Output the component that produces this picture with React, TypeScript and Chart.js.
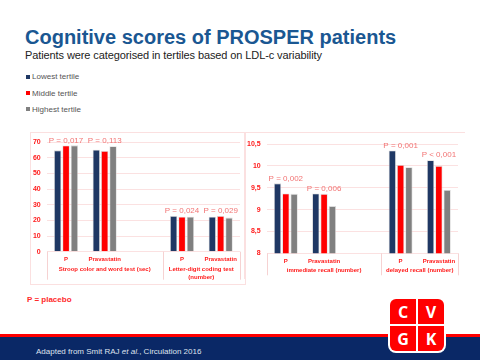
import React, { useEffect, useRef } from "react";
import { Chart, registerables } from "chart.js";

Chart.register(...registerables);

// ---------- DATA ----------
const seriesNames = ["Lowest tertile", "Middle tertile", "Highest tertile"];
const seriesColors = ["#1f3864", "#ff0000", "#808080"];

const leftCategories = ["P", "Pravastatin", "", "P", "Pravastatin"];
const leftLowest = [64.8, 65.2, null, 22.8, 22.4];
const leftMiddle = [67.9, 64.4, null, 22.4, 22.8];
const leftHighest = [68.0, 67.4, null, 22.4, 21.8];
const leftPValues = ["P = 0,017", "P = 0,113", "", "P = 0,024", "P = 0,029"];
const leftGroupLabels = [["Stroop color and word test (sec)"], ["Letter-digit coding test", "(number)"]];
const leftGroupSpans = [[0, 2], [3, 4]];
const leftTicks = { min: 0, max: 70, step: 10 };

const rightCategories = ["P", "Pravastatin", "", "P", "Pravastatin"];
const rightLowest = [9.6, 9.37, null, 10.35, 10.13];
const rightMiddle = [9.37, 9.36, null, 10.02, 10.0];
const rightHighest = [9.36, 9.08, null, 9.97, 9.45];
const rightPValues = ["P = 0,002", "P = 0,006", "", "P = 0,001", "P < 0,001"];
const rightGroupLabels = [["immediate recall (number)"], ["delayed recall (number)"]];
const rightGroupSpans = [[0, 2], [3, 4]];
const rightTicks = { min: 8, max: 10.5, step: 0.5 };

const FONT = '"Liberation Sans", Arial, sans-serif';
const RED = "#ff1a1a";
const PCOLOR = "#f27474";
const GRID = "#fbe1e1";

function makePlugin(pvals: string[], groupLabels: string[][], groupSpans: number[][], sepLen: number, groupOffset: number) {
  return {
    id: "annot",
    afterDatasetsDraw(chart: any) {
      const { ctx, scales, chartArea } = chart;
      const x = scales.x;
      const y = scales.y;
      ctx.save();
      ctx.font = `8px ${FONT}`;
      ctx.fillStyle = PCOLOR;
      ctx.textAlign = "center";
      ctx.textBaseline = "bottom";
      pvals.forEach((p, i) => {
        if (!p) return;
        const vals = chart.data.datasets.map((d: any) => d.data[i]).filter((v: any) => v != null);
        const top = y.getPixelForValue(Math.max(...vals));
        ctx.fillText(p, x.getPixelForValue(i), top - 1);
      });
      // separators
      ctx.strokeStyle = "#f6d2d2";
      ctx.lineWidth = 1;
      const bounds = new Set<number>();
      groupSpans.forEach(([a, b]) => {
        bounds.add(a - 0.5);
        bounds.add(b + 0.5);
      });
      bounds.forEach((b) => {
        const px = Math.round(x.getPixelForValue(b)) + 0.5;
        ctx.beginPath();
        ctx.moveTo(px, chartArea.bottom);
        ctx.lineTo(px, chartArea.bottom + sepLen);
        ctx.stroke();
      });
      // group labels
      ctx.font = `bold 6px ${FONT}`;
      ctx.fillStyle = RED;
      ctx.textBaseline = "middle";
      groupSpans.forEach(([a, b], gi) => {
        const cx = (x.getPixelForValue(a - 0.5) + x.getPixelForValue(b + 0.5)) / 2;
        groupLabels[gi].forEach((line, li) => {
          ctx.fillText(line, cx, chartArea.bottom + groupOffset + li * 8);
        });
      });
      ctx.restore();
    },
  };
}

function BarPanel(props: any) {
  const ref = useRef<HTMLCanvasElement>(null);
  const { categories, series, pvals, groupLabels, groupSpans, ticks, width, height, pad, yWidth, xHeight, sepLen, groupOffset, fmt } = props;
  useEffect(() => {
    const chart = new Chart(ref.current as HTMLCanvasElement, {
      type: "bar",
      data: {
        labels: categories,
        datasets: series.map((d: any, i: number) => ({
          label: seriesNames[i],
          data: d,
          backgroundColor: seriesColors[i],
          borderColor: "rgba(215,215,215,0.9)",
          borderWidth: 0.8,
          categoryPercentage: 0.65,
          barPercentage: 0.88,
        })),
      },
      options: {
        responsive: false,
        animation: false,
        layout: { padding: pad },
        plugins: { legend: { display: false }, tooltip: { enabled: false }, title: { display: false } },
        scales: {
          x: {
            grid: { display: false, drawTicks: false },
            border: { display: false },
            ticks: { color: RED, font: { family: FONT, size: 6, weight: "bold" }, padding: 4, autoSkip: false, maxRotation: 0 },
            afterFit: (s: any) => { s.height = xHeight; },
          },
          y: {
            min: ticks.min,
            max: ticks.max,
            grid: { color: GRID, drawTicks: false },
            border: { display: false },
            ticks: {
              stepSize: ticks.step,
              color: RED,
              padding: 6,
              font: { family: FONT, size: 7, weight: "bold" },
              callback: (v: any) => fmt(v),
            },
            afterFit: (s: any) => { s.width = yWidth; },
          },
        },
      },
      plugins: [makePlugin(pvals, groupLabels, groupSpans, sepLen, groupOffset)],
    } as any);
    return () => chart.destroy();
  }, []);
  return <canvas ref={ref} width={width} height={height} style={{ width, height, display: "block" }} />;
}

const abs = (l: number, t: number, extra: any = {}) => ({ position: "absolute" as const, left: l, top: t, ...extra });

export default function App() {
  return (
    <div style={{ position: "absolute", left: 0, top: 0, width: 480, height: 360, overflow: "hidden", background: "#fff", fontFamily: FONT }}>
      <div style={abs(25, 27, { fontSize: 20, lineHeight: "20px", fontWeight: "bold", color: "#1a5792", whiteSpace: "nowrap" })}>
        Cognitive scores of PROSPER patients
      </div>
      <div style={abs(25, 50, { fontSize: 11, lineHeight: "11px", color: "#222", whiteSpace: "nowrap", letterSpacing: "-0.1px" })}>
        Patients were categorised in tertiles based on LDL-c variability
      </div>
      {seriesNames.map((n, i) => (
        <React.Fragment key={n}>
          <div style={abs(26, 75 + i * 16, { width: 4, height: 4, background: seriesColors[i] })} />
          <div style={abs(32, 73 + i * 16.5, { fontSize: 8, lineHeight: "8px", color: "#555", whiteSpace: "nowrap" })}>{n}</div>
        </React.Fragment>
      ))}

      <div style={abs(30, 132, { width: 214, height: 151, border: "1px solid #fbe0e0" })} />
      <div style={abs(30, 132)}>
        <BarPanel
          categories={leftCategories}
          series={[leftLowest, leftMiddle, leftHighest]}
          pvals={leftPValues}
          groupLabels={leftGroupLabels}
          groupSpans={leftGroupSpans}
          ticks={leftTicks}
          width={215}
          height={152}
          pad={{ top: 7, right: 5, left: 0, bottom: 0 }}
          yWidth={16.7}
          xHeight={32.3}
          sepLen={28}
          groupOffset={17.6}
          fmt={(v: number) => String(v)}
        />
      </div>

      <div style={abs(244, 132, { width: 220, height: 146, borderLeft: "1px solid #fbe0e0", borderTop: "1px solid #fbe0e0" })} />
      <div style={abs(244, 132)}>
        <BarPanel
          categories={rightCategories}
          series={[rightLowest, rightMiddle, rightHighest]}
          pvals={rightPValues}
          groupLabels={rightGroupLabels}
          groupSpans={rightGroupSpans}
          ticks={rightTicks}
          width={220}
          height={148}
          pad={{ top: 12, right: 6, left: 0, bottom: 0 }}
          yWidth={22.7}
          xHeight={26.7}
          sepLen={22}
          groupOffset={17.4}
          fmt={(v: number) => String(v).replace(".", ",")}
        />
      </div>

      <div style={abs(27, 296, { fontSize: 8, lineHeight: "8px", fontWeight: "bold", color: "#ff2a2a", whiteSpace: "nowrap" })}>P = placebo</div>

      <div style={abs(0, 334, { width: 480, height: 3, background: "#ff0000" })} />
      <div style={abs(0, 337, { width: 480, height: 23, background: "#0a2866" })} />
      <div style={abs(36, 348, { fontSize: 8, lineHeight: "8px", color: "#dfe3ee", whiteSpace: "nowrap" })}>
        Adapted from Smit RAJ <i>et al.</i>, Circulation 2016
      </div>

      <div style={abs(388, 297, { width: 58, height: 56, background: "#fff", borderRadius: 8, padding: 2, boxSizing: "border-box", display: "grid", gridTemplateColumns: "1fr 1fr", gridTemplateRows: "1fr 1fr", gap: 2 })}>
        {["C", "V", "G", "K"].map((l, i) => (
          <div
            key={l}
            style={{
              background: "#ff0000",
              color: "#fff",
              fontFamily: '"Open Sans", Arial, sans-serif',
              fontWeight: "bold",
              fontSize: 16,
              display: "flex",
              alignItems: "center",
              justifyContent: "center",
              borderTopLeftRadius: i === 0 ? 6 : 0,
              borderTopRightRadius: i === 1 ? 6 : 0,
              borderBottomLeftRadius: i === 2 ? 6 : 0,
              borderBottomRightRadius: i === 3 ? 6 : 0,
            }}
          >
            {l}
          </div>
        ))}
      </div>
    </div>
  );
}
